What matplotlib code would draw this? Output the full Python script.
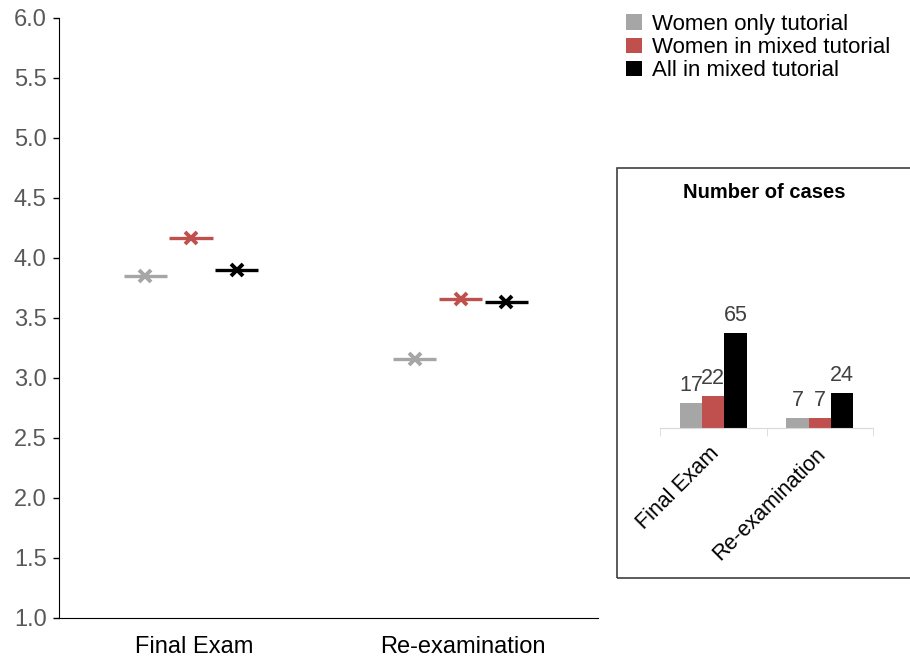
import numpy as np
import matplotlib
matplotlib.use('Agg')
import matplotlib.pyplot as plt
from matplotlib.patches import Patch, Rectangle

plt.rcParams['font.family'] = ['Liberation Sans', 'DejaVu Sans']

# data
exams = ['Final Exam', 'Re-examination']
groups = ['Women only tutorial', 'Women in mixed tutorial', 'All in mixed tutorial']
colors = ['#a6a6a6', '#c0504d', '#000000']
means = {
    'Women only tutorial': [3.85, 3.16],
    'Women in mixed tutorial': [4.17, 3.66],
    'All in mixed tutorial': [3.90, 3.63],
}
cases = {
    'Women only tutorial': [17, 7],
    'Women in mixed tutorial': [22, 7],
    'All in mixed tutorial': [65, 24],
}

fig = plt.figure(figsize=(9.1, 6.64), dpi=100)

# main chart
ax = fig.add_axes([59 / 910, 1 - 618 / 664, (598 - 59) / 910, 600 / 664])
offsets = [-0.18, -0.01, 0.16]
half = 0.08
x = np.arange(len(exams))
for g, c, off in zip(groups, colors, offsets):
    xs = x + off
    ax.hlines(means[g], xs - half, xs + half, color=c, lw=2.4)
    ax.plot(xs, means[g], ls='none', marker='x', ms=9, mew=2.8, color=c)

ax.set_xlim(-0.5, 1.5)
ax.set_ylim(1.0, 6.0)
ax.set_yticks(np.arange(1.0, 6.01, 0.5))
ax.set_yticklabels(['%.1f' % v for v in np.arange(1.0, 6.01, 0.5)])
ax.set_xticks(x)
ax.set_xticklabels(exams)
ax.tick_params(axis='y', labelsize=17, labelcolor='#595959', length=4, width=1, pad=5)
ax.tick_params(axis='x', labelsize=17, length=0, pad=13)
for s in ['top', 'right']:
    ax.spines[s].set_visible(False)

# legend
handles = [Patch(facecolor=c, edgecolor='none') for c in colors]
fig.legend(handles, groups, loc='upper left', bbox_to_anchor=(626 / 910, 1 - 14 / 664),
           frameon=False, fontsize=16, handlelength=0.7, handleheight=0.7,
           handletextpad=0.45, labelspacing=0.1, borderaxespad=0, borderpad=0)

# inset box
box = Rectangle((617 / 910, 1 - 578 / 664), 0.4, (578 - 168) / 664,
                transform=fig.transFigure, fill=False, ec='#404040', lw=1.2)
fig.add_artist(box)
fig.text(764 / 910, 1 - 192 / 664, 'Number of cases', ha='center', va='center',
         fontsize=14.5, fontweight='bold')

ins = fig.add_axes([660 / 910, 1 - 428 / 664, 213 / 910, 128 / 664])
w = 0.21
for i, (g, c) in enumerate(zip(groups, colors)):
    bars = ins.bar(x + (i - 1) * w, cases[g], width=w, color=c)
    for b, v in zip(bars, cases[g]):
        ins.annotate(str(v), (b.get_x() + b.get_width() / 2, v), xytext=(0, 5),
                     textcoords='offset points', ha='center', va='bottom',
                     fontsize=15.5, color='#404040')
ins.set_xlim(-0.5, 1.5)
ins.set_ylim(0, 87.7)
ins.set_yticks([])
for s in ['top', 'right', 'left']:
    ins.spines[s].set_visible(False)
ins.spines['bottom'].set_color('#d9d9d9')
ins.set_xticks(x - 0.04)
ins.set_xticklabels(exams, rotation=45, ha='right', rotation_mode='anchor', fontsize=15.5)
ins.set_xticks([-0.5, 0.5, 1.5], minor=True)
ins.tick_params(axis='x', which='major', length=0, pad=11)
ins.tick_params(axis='x', which='minor', length=6, color='#d9d9d9')

fig.savefig('out.png', dpi=100)
